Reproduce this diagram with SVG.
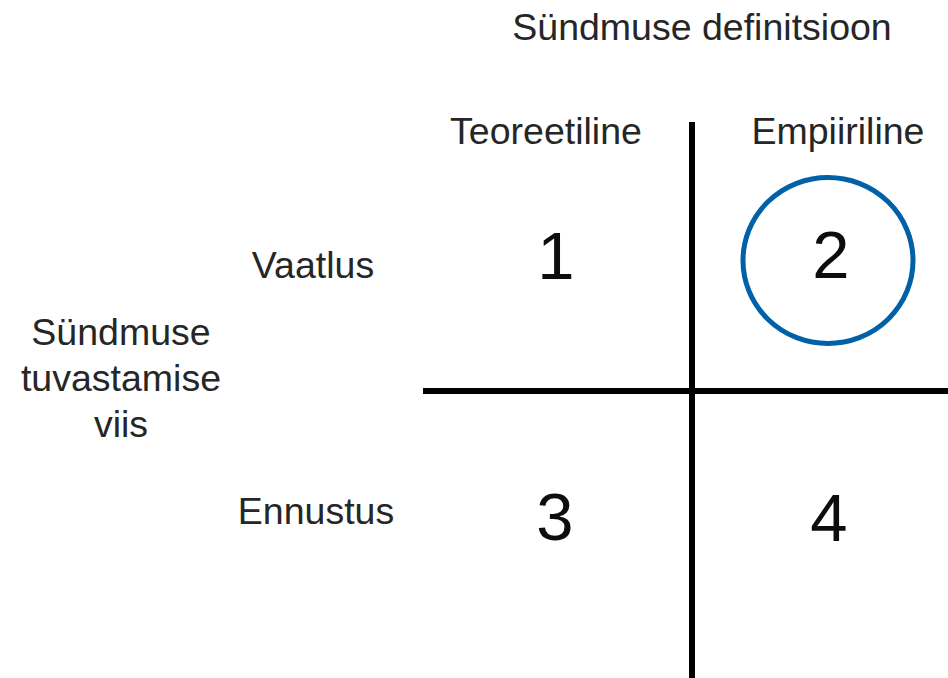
<svg xmlns="http://www.w3.org/2000/svg" width="948" height="678" viewBox="0 0 948 678">
  <style>
    .lbl { font-family: "Liberation Sans", Arial, sans-serif; font-size: 37.5px; fill: #262626; text-anchor: middle; }
    .num { font-family: "Liberation Sans", Arial, sans-serif; font-size: 67px; fill: #0d0d0d; text-anchor: middle; }
    .axis { stroke: #000000; stroke-width: 6; fill: none; }
  </style>
  <rect width="948" height="678" fill="#ffffff"/>
  <g id="connectors">
    <line class="axis" x1="692" y1="122" x2="692" y2="678"/>
    <line class="axis" x1="423" y1="391" x2="948" y2="391"/>
  </g>
  <g id="title-definition">
    <text class="lbl" x="702" y="40">Sündmuse definitsioon</text>
  </g>
  <g id="col-teoreetiline">
    <text class="lbl" x="546" y="144">Teoreetiline</text>
  </g>
  <g id="col-empiiriline">
    <text class="lbl" x="838" y="144">Empiiriline</text>
  </g>
  <g id="title-method">
    <text class="lbl" x="121" y="345">Sündmuse</text>
    <text class="lbl" x="121" y="391">tuvastamise</text>
    <text class="lbl" x="121" y="437">viis</text>
  </g>
  <g id="row-vaatlus">
    <text class="lbl" x="313" y="278">Vaatlus</text>
  </g>
  <g id="row-ennustus">
    <text class="lbl" x="316" y="524">Ennustus</text>
  </g>
  <g id="cell-1">
    <text class="num" x="556" y="279">1</text>
  </g>
  <g id="cell-2">
    <ellipse cx="828" cy="260.5" rx="85" ry="83" fill="none" stroke="#0061A8" stroke-width="5"/>
    <text class="num" x="831" y="278">2</text>
  </g>
  <g id="cell-3">
    <text class="num" x="555" y="540">3</text>
  </g>
  <g id="cell-4">
    <text class="num" x="829" y="541">4</text>
  </g>
</svg>
